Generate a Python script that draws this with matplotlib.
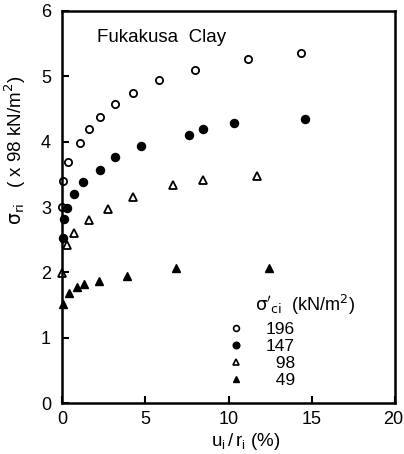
import matplotlib
matplotlib.use("Agg")
import matplotlib.pyplot as plt
import matplotlib.transforms as mtransforms
from matplotlib.lines import Line2D

plt.rcParams["font.family"] = ["Liberation Sans", "DejaVu Sans"]
plt.rcParams["mathtext.fontset"] = "custom"
plt.rcParams["mathtext.rm"] = "Liberation Sans"
plt.rcParams["mathtext.it"] = "Liberation Sans"

# sigma'_ci = 196 kN/m2
x196 = [0.0, 0.08, 0.38, 1.08, 1.64, 2.28, 3.18, 4.28, 5.8, 8.0, 11.14, 14.34]
y196 = [3.0, 3.40, 3.69, 3.98, 4.20, 4.38, 4.57, 4.75, 4.94, 5.10, 5.27, 5.35]
# 147
x147 = [0.04, 0.12, 0.28, 0.74, 1.28, 2.26, 3.2, 4.72, 7.64, 8.44, 10.34, 14.58]
y147 = [2.52, 2.81, 2.99, 3.20, 3.38, 3.56, 3.76, 3.93, 4.10, 4.20, 4.28, 4.34]
# 98
x98 = [0.0, 0.28, 0.74, 1.64, 2.74, 4.24, 6.68, 8.44, 11.68]
y98 = [1.99, 2.42, 2.60, 2.80, 2.97, 3.15, 3.33, 3.41, 3.47]
# 49
x49 = [0.04, 0.44, 0.88, 1.34, 2.24, 3.92, 6.84, 12.44]
y49 = [1.51, 1.69, 1.78, 1.82, 1.87, 1.94, 2.06, 2.07]

labels = ["196", "147", "  98", "  49"]

fig = plt.figure(figsize=(4.04, 4.54), dpi=100)
ax = fig.add_axes([0.1535, 0.1123, 0.8245, 0.8635])

ms = 5.2
ax.plot(x196, y196, "o", mfc="white", mec="black", mew=1.3, ms=ms, clip_on=False)
ax.plot(x147, y147, "o", color="black", ms=ms + 0.6, clip_on=False)
ax.plot(x98, y98, "^", mfc="white", mec="black", mew=1.3, ms=ms, clip_on=False)
ax.plot(x49, y49, "^", color="black", ms=ms + 0.4, clip_on=False)

ax.set_xlim(0, 20)
ax.set_ylim(0, 6)
ax.set_xticks([0, 5, 10, 15, 20])
ax.set_yticks([0, 1, 2, 3, 4, 5, 6])
ax.tick_params(direction="in", length=5, width=1.5, labelsize=13)
ax.tick_params(axis="y", pad=8)
ax.tick_params(axis="x", pad=6)
for sp in ax.spines.values():
    sp.set_linewidth(1.8)

# keep the "20" label inside the figure
last = ax.get_xticklabels()[-1]
last.set_transform(last.get_transform()
                   + mtransforms.ScaledTranslation(-2 / 100, 0, fig.dpi_scale_trans))

ax.set_xlabel(r"$\mathrm{u_i\,/\,r_i}$ (%)", fontsize=13.5)
ax.xaxis.set_label_coords(0.553, -0.072)
ax.set_ylabel(r"$\mathrm{\sigma_{ri}}$   ( x 98 kN/m$^2$)", fontsize=13.5,
              math_fontfamily="dejavusans")
ax.yaxis.set_label_coords(-0.102, 0.645)

ax.text(2.1, 5.6, "Fukakusa  Clay", fontsize=13.5, ha="left", va="center")
ax.text(11.6, 1.5, r"$\mathrm{\sigma'_{ci}}$  (kN/m$^2$)", fontsize=13,
        ha="left", va="center", math_fontfamily="dejavusans")

handles = [
    Line2D([], [], ls="none", marker="o", mfc="white", mec="black", mew=1.2, ms=4.2),
    Line2D([], [], ls="none", marker="o", color="black", ms=4.8),
    Line2D([], [], ls="none", marker="^", mfc="white", mec="black", mew=1.2, ms=4.2),
    Line2D([], [], ls="none", marker="^", color="black", ms=4.6),
]
ax.legend(handles, labels, frameon=False, fontsize=12.5,
          loc="upper left", bbox_to_anchor=(0.502, 0.207),
          handlelength=0.8, handletextpad=1.3, labelspacing=0.1,
          borderpad=0.0, borderaxespad=0.0)

fig.savefig("out.png", dpi=100)
plt.close()
